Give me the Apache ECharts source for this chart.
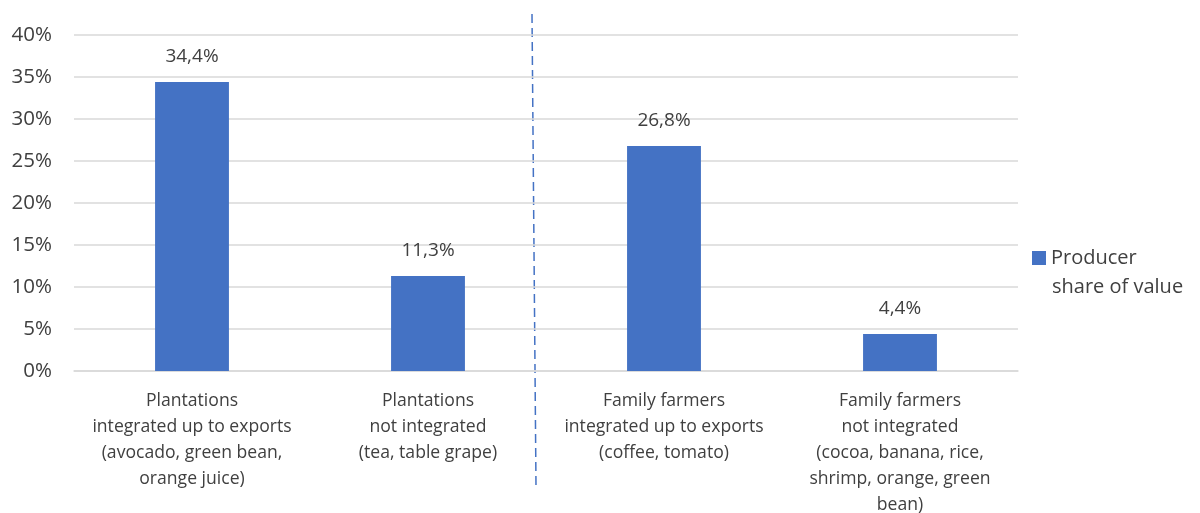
<!DOCTYPE html>
<html><head><meta charset="utf-8">
<script src="https://cdn.jsdelivr.net/npm/echarts@6/dist/echarts.min.js"></script>
<style>html,body{margin:0;padding:0;background:#fff}#c{width:1200px;height:513px}</style>
</head><body><div id="c"></div>
<script>
const categories = [
  "Plantations\nintegrated up to exports\n(avocado, green bean,\norange juice)",
  "Plantations\nnot integrated\n(tea, table grape)",
  "Family farmers\nintegrated up to exports\n(coffee, tomato)",
  "Family farmers\nnot integrated\n(cocoa, banana, rice,\nshrimp, orange, green\nbean)"
];
const seriesName = "Producer share of value";
const legendLines = ["Producer", "share of value"];
const values = [34.4, 11.3, 26.8, 4.4];
const FONT = "Open Sans";
const TXT = "#404040";
const chart = echarts.init(document.getElementById('c'));
chart.setOption({
  animation: false,
  textStyle: {fontFamily: FONT, color: TXT},
  grid: {left: 74, right: 182, top: 35, bottom: 142, containLabel: false, outerBoundsMode: 'none'},
  legend: {
    orient: 'vertical',
    left: 1027, top: 238,
    itemWidth: 14, itemHeight: 14, itemGap: 0,
    icon: 'rect',
    formatter: () => legendLines[0],
    textStyle: {fontFamily: FONT, fontSize: 20, color: TXT, lineHeight: 30},
    data: [seriesName]
  },
  xAxis: {
    type: 'category', data: categories,
    axisTick: {show: false},
    axisLine: {lineStyle: {color: '#d9d9d9', width: 1.5}},
    axisLabel: {fontFamily: FONT, fontSize: 17.6, color: TXT, lineHeight: 26, margin: 17, interval: 0}
  },
  yAxis: {
    type: 'value', min: 0, max: 40, interval: 5,
    axisLabel: {formatter: '{value}%', fontFamily: FONT, fontSize: 20.5, color: TXT, margin: 22},
    splitLine: {lineStyle: {color: '#d9d9d9', width: 1.5}},
    axisLine: {show: false}, axisTick: {show: false}
  },
  series: [{
    name: seriesName, type: 'bar', data: values,
    barWidth: '31.3%',
    itemStyle: {color: '#4472C4'},
    label: {show: true, position: 'top', distance: 16, fontFamily: FONT, fontSize: 19, color: TXT,
      formatter: p => p.value.toFixed(1).replace('.', ',') + '%'}
  }],
  graphic: [{
    type: 'line', shape: {x1: 532, y1: 14, x2: 536, y2: 486},
    style: {stroke: '#4472C4', lineWidth: 1.5, lineDash: [9, 5]}
  }, {
    type: 'text', left: 1052, top: 277,
    style: {text: legendLines[1], fontFamily: FONT, fontSize: 20, fill: TXT}
  }]
});
</script></body></html>
